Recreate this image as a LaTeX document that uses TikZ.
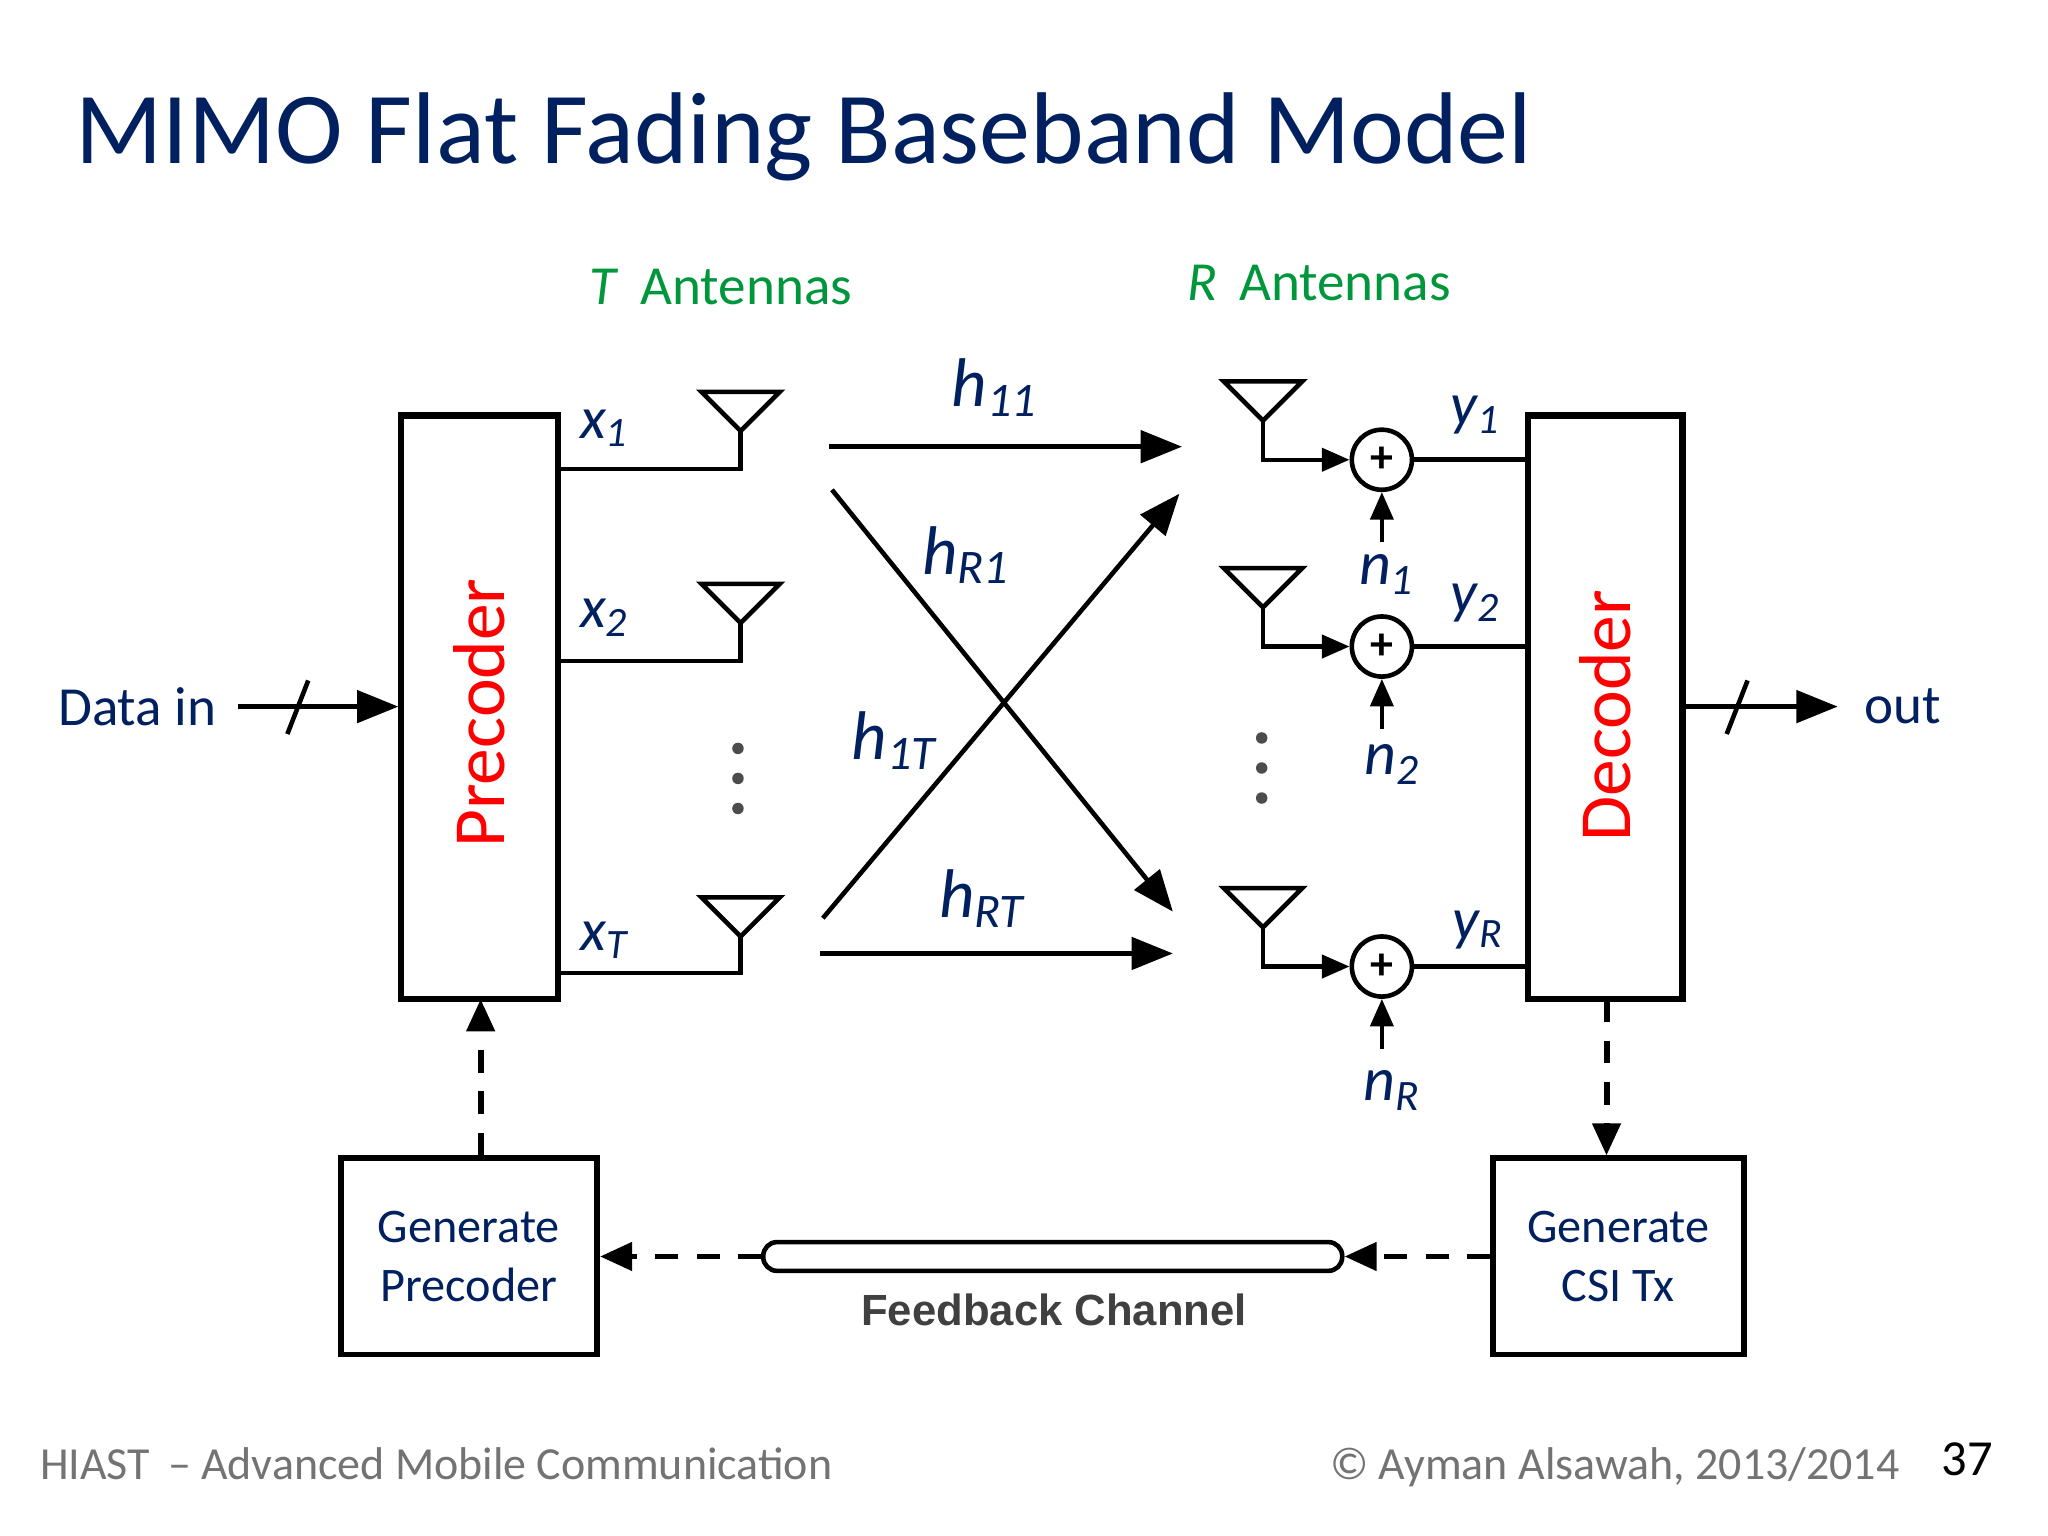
\documentclass[tikz,border=0pt]{standalone}
\usepackage{fontspec}
\setmainfont{Carlito}
\newfontfamily\arial{Liberation Sans}
\usetikzlibrary{arrows.meta}
\definecolor{dblue}{RGB}{0,32,96}
\definecolor{dgreen}{RGB}{0,150,60}
\newcommand{\lab}[2]{\itshape #1\textsubscript{#2}}
\begin{document}
\begin{tikzpicture}[x=0.01cm,y=-0.01cm,
  box/.style={draw,line width=1.3pt,inner sep=0},
  arr/.style={line width=1pt,-{Triangle[length=9pt,width=7pt]}},
  sarr/.style={line width=0.9pt,-{Triangle[length=6pt,width=5pt]}},
  fbdash/.style={line width=1.3pt,dash pattern=on 5pt off 4pt,-{Triangle[length=7pt,width=6pt]}},
  ant/.style={line width=1pt},
  lbl/.style={text=dblue,font=\fontsize{15}{17}\selectfont,inner sep=0},
  nlbl/.style={text=dblue,font=\fontsize{13.5}{15}\selectfont,inner sep=0},
  dot/.style={circle,fill=black!70,inner sep=0,minimum size=2.5pt}]
\useasboundingbox (0,0) rectangle (1568,1176);
\fill[white] (0,0) rectangle (1568,1176);
\node[anchor=base west,text=dblue,font=\fontsize{22.2}{26}\selectfont,inner sep=0] (title) at (57,125) {MIMO Flat Fading Baseband Model};
\node[text=dgreen,font=\fontsize{12}{14}\selectfont] (ta) at (552,220) {\textit{T}\, Antennas};
\node[text=dgreen,font=\fontsize{12}{14}\selectfont] (ra) at (1010,217) {\textit{R}\, Antennas};
% boxes
\draw[line width=1.4pt] (307,318) rectangle (427,765);
\node[rotate=90,text=red,font=\fontsize{16}{18}\selectfont] (pre) at (367,546) {Precoder};
\draw[line width=1.4pt] (1170,318) rectangle (1288,765);
\node[rotate=90,text=red,font=\fontsize{16}{18}\selectfont] (dec) at (1229,548) {Decoder};
% data in / out
\node[text=dblue,font=\fontsize{12}{14}\selectfont] (din) at (105,541) {Data in};
\coordinate (d1) at (182,541); \coordinate (d2) at (305,541);
\draw[arr] (d1) -- (d2);
\draw[line width=1pt] (220,562) -- (236,521);
\node[text=dblue,font=\fontsize{12}{14}\selectfont] (out) at (1457,541) {out};
\coordinate (o1) at (1290,541); \coordinate (o2) at (1407,541);
\draw[arr] (o1) -- (o2);
\draw[line width=1pt] (1322,562) -- (1338,521);
% tx antennas
\foreach \y/\t in {359/300,506/447,745/687}{
  \draw[ant] (427,\y) -- (567,\y) -- (567,\t+30);
  \draw[ant] (537,\t) -- (597,\t) -- (567,\t+30) -- cycle;
}
\node[lbl,font=\fontsize{13}{15}\selectfont] at (463,328) {\lab{x}{1}};
\node[lbl,font=\fontsize{13}{15}\selectfont] at (463,473) {\lab{x}{2}};
\node[lbl,font=\fontsize{13}{15}\selectfont] at (463,720) {\lab{x}{T}};
\foreach \y in {573,596,619} \node[dot] at (565,\y) {};
\foreach \y in {565,588,611} \node[dot] at (966,\y) {};
% channel
\draw[arr] (635,342) -- (905,342);
\draw[arr] (628,730) -- (898,730);
\draw[arr] (637,375) -- (898,698);
\draw[arr] (630,703) -- (903,378);
\node[lbl] at (762,297) {\lab{h}{11}};
\node[lbl] at (740,425) {\lab{h}{R1}};
\node[lbl] at (685,567) {\lab{h}{1T}};
\node[lbl] at (752,688) {\lab{h}{RT}};
% rx
\foreach \y/\t/\n in {352/292/1,495/435/2,740/680/3}{
  \draw[ant] (937,\t) -- (997,\t) -- (967,\t+30) -- cycle;
  \node[circle,draw,line width=1pt,minimum size=0.46cm,inner sep=0,font=\bfseries] (s\n) at (1058,\y) {+};
  \draw[sarr] (967,\t+30) -- (967,\y) -- (s\n.west);
  \coordinate (nb\n) at (1058,\y+63);
  \draw[sarr] (nb\n) -- (s\n.south);
  \draw[line width=1pt] (s\n.east) -- (1170,\y);
}
\node[nlbl] at (1062,440) {\lab{n}{1}};
\node[nlbl] at (1066,585) {\lab{n}{2}};
\node[nlbl] at (1066,835) {\lab{n}{R}};
\node[lbl,font=\fontsize{13}{15}\selectfont] at (1130,318) {\lab{y}{1}};
\node[lbl,font=\fontsize{13}{15}\selectfont] at (1130,462) {\lab{y}{2}};
\node[lbl,font=\fontsize{13}{15}\selectfont] at (1132,712) {\lab{y}{R}};
% feedback
\node[box,minimum width=1.96cm,minimum height=1.5cm,text=dblue,align=center,font=\fontsize{10.5}{13}\selectfont] (gp) at (359,962) {Generate\\Precoder};
\node[box,minimum width=1.92cm,minimum height=1.5cm,text=dblue,align=center,font=\fontsize{10.5}{13}\selectfont] (gc) at (1239,962) {Generate\\CSI Tx};
\node[draw,line width=1pt,rounded corners=3pt,minimum width=4.43cm,minimum height=0.22cm,inner sep=0] (fb) at (806,962) {};
\node[font=\arial\bfseries\fontsize{9.5}{12}\selectfont,text=black!75] at (807,1003) {Feedback Channel};
\coordinate (pb) at (368,765); \coordinate (db) at (1230,765);
\draw[fbdash] (gp.north -| pb) -- (pb);
\draw[fbdash] (db) -- (gc.north -| db);
\draw[fbdash] (gc.west) -- (fb.east);
\draw[fbdash] (fb.west) -- (gp.east);
% footer
\node[anchor=base west,text=black!55,font=\fontsize{10}{12}\selectfont,inner sep=0] at (30,1133) {HIAST\, – Advanced Mobile Communication};
\node[anchor=base east,text=black!55,font=\fontsize{10}{12}\selectfont,inner sep=0] at (1455,1133) {© Ayman Alsawah, 2013/2014};
\node[anchor=base,font=\fontsize{11}{12}\selectfont,inner sep=0] at (1506,1130) {37};
\end{tikzpicture}
\end{document}
